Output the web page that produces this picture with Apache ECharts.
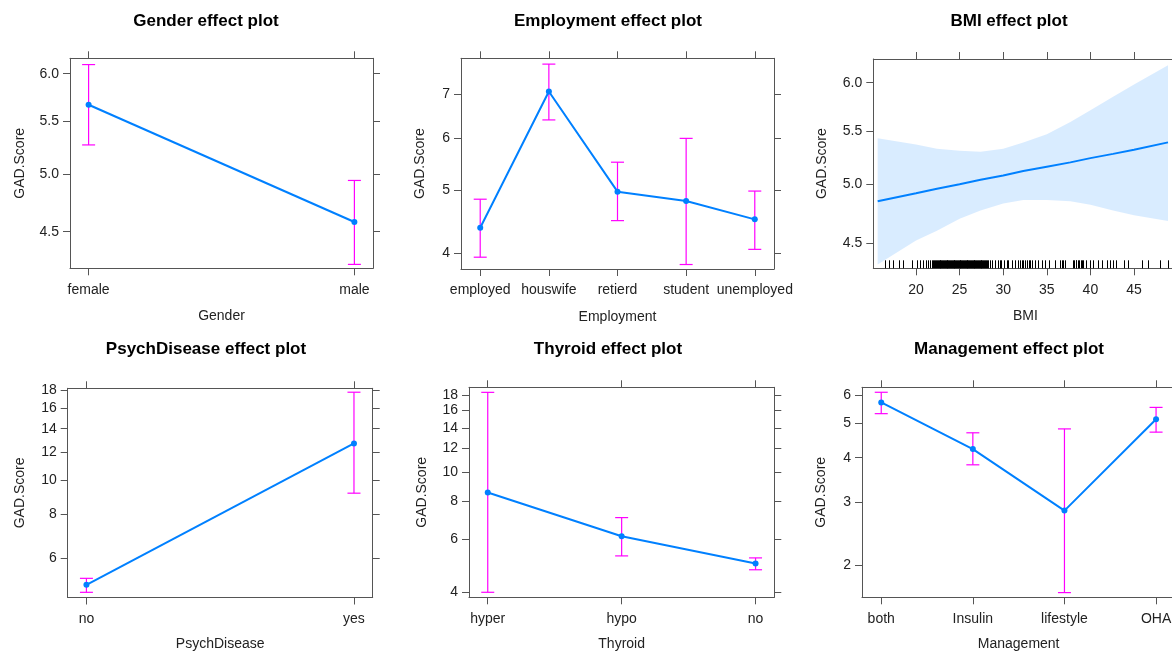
<!DOCTYPE html>
<html>
<head>
<meta charset="utf-8">
<script src="https://cdn.jsdelivr.net/npm/echarts@6.0.0/dist/echarts.min.js"></script>
<style>
html,body{margin:0;padding:0;background:#fff;overflow:hidden;}
#chart{width:1180px;height:652px;}
</style>
</head>
<body>
<div id="chart"></div>
<script>
// ---------------- DATA ----------------
// Gender
const genderCats = ['female', 'male'];
const genderFit = [5.67, 4.58];
const genderLower = [5.27, 4.24];
const genderUpper = [6.10, 4.94];
const genderTicks = [4.5, 5.0, 5.5, 6.0];

// Employment
const employmentCats = ['employed', 'houswife', 'retierd', 'student', 'unemployed'];
const employmentFit = [4.38, 7.06, 4.97, 4.81, 4.51];
const employmentLower = [3.95, 6.39, 4.49, 3.85, 4.06];
const employmentUpper = [4.84, 7.77, 5.51, 5.99, 4.98];
const employmentTicks = [4, 5, 6, 7];

// BMI
const bmiX = [15.6, 20, 22.4, 25, 27.4, 30, 32.3, 35, 37.7, 40, 42.6, 45, 48.9];
const bmiFit = [4.85, 4.92, 4.96, 5.00, 5.04, 5.08, 5.12, 5.16, 5.20, 5.24, 5.28, 5.32, 5.39];
const bmiLower = [4.33, 4.52, 4.60, 4.70, 4.77, 4.83, 4.86, 4.86, 4.85, 4.82, 4.77, 4.73, 4.68];
const bmiUpper = [5.43, 5.37, 5.33, 5.31, 5.30, 5.33, 5.39, 5.47, 5.59, 5.71, 5.85, 5.98, 6.19];
const bmiXTicks = [20, 25, 30, 35, 40, 45];
const bmiYTicks = [4.5, 5.0, 5.5, 6.0];
const bmiRug = [16.4, 16.9, 17.4, 18.0, 18.5, 19.5, 20.1, 20.5, 20.8, 21.1, 21.4, 21.6, 21.8,
  22.0, 22.1, 22.2, 22.3, 22.4, 22.5, 22.6, 22.7, 22.8, 22.9, 23.0, 23.1, 23.2, 23.3, 23.4, 23.5,
  23.6, 23.7, 23.8, 23.9, 24.0, 24.1, 24.2, 24.3, 24.4, 24.5, 24.6, 24.7, 24.8, 24.9, 25.0, 25.1,
  25.2, 25.3, 25.4, 25.5, 25.6, 25.7, 25.8, 25.9, 26.0, 26.1, 26.2, 26.3, 26.4, 26.5, 26.6, 26.7,
  26.8, 26.9, 27.0, 27.1, 27.2, 27.3, 27.4, 27.5, 27.6, 27.7, 27.8, 27.9, 28.0, 28.1, 28.3, 28.5,
  28.7, 29.1, 29.4, 29.6, 29.8, 30.1, 30.4, 30.6, 31.0, 31.4,
  31.7, 31.9, 32.1, 32.3, 32.5, 32.7, 32.9, 33.1, 33.3, 33.6, 34.0, 34.4, 34.8, 35.2, 35.9, 36.5,
  36.7, 36.9, 37.1, 38.0, 38.1, 38.3, 38.4, 38.6, 38.7, 38.9, 39.0, 39.2, 39.5, 40.0, 40.3, 40.9,
  41.3, 41.9, 42.2, 42.6, 42.9, 43.9, 44.3, 45.9, 46.6, 48.0, 48.9];

// PsychDisease
const psychCats = ['no', 'yes'];
const psychFit = [5.05, 12.72];
const psychLower = [4.81, 9.19];
const psychUpper = [5.27, 17.77];
const psychTicks = [6, 8, 10, 12, 14, 16, 18];

// Thyroid
const thyroidCats = ['hyper', 'hypo', 'no'];
const thyroidFit = [8.57, 6.14, 4.99];
const thyroidLower = [4.01, 5.29, 4.76];
const thyroidUpper = [18.37, 7.08, 5.21];
const thyroidTicks = [4, 6, 8, 10, 12, 14, 16, 18];

// Management
const managementCats = ['both', 'Insulin', 'lifestyle', 'OHA'];
const managementFit = [5.72, 4.23, 2.84, 5.13];
const managementLower = [5.32, 3.82, 1.67, 4.72];
const managementUpper = [6.11, 4.70, 4.82, 5.54];
const managementTicks = [2, 3, 4, 5, 6];

// ---------------- LAYOUT / STYLE ----------------
const FONT = 'Liberation Sans, Arial, Helvetica, sans-serif';
const BOX = '#555555';
const TXT = '#222222';
const BLUE = '#0080ff';
const MAG = '#ff00ff';
const ln = Math.log;

const panels = [
  {title: 'Gender effect plot', cx: 206, cy: 20, rect: [70, 58.3, 303, 210], xName: 'Gender', xGap: 41, yGap: 43,
   cats: genderCats, fit: genderFit, lo: genderLower, hi: genderUpper, yTicks: genderTicks, yRange: [4.21, 6.17], dec: 1},
  {title: 'Employment effect plot', cx: 608, cy: 20, rect: [461, 58.3, 313, 210.7], xName: 'Employment', xGap: 41, yGap: 34,
   cats: employmentCats, fit: employmentFit, lo: employmentLower, hi: employmentUpper, yTicks: employmentTicks, yRange: [3.79, 7.93], dec: 0},
  {title: 'BMI effect plot', cx: 1009, cy: 20, rect: [873.3, 59, 304.3, 209.3], xName: 'BMI', xGap: 41, yGap: 44.6,
   continuous: true, yTicks: bmiYTicks, yRange: [4.30, 6.26], xRange: [15.1, 50.0], xTicks: bmiXTicks, dec: 1},
  {title: 'PsychDisease effect plot', cx: 206, cy: 348, rect: [67.7, 388.3, 305, 209.4], xName: 'PsychDisease', xGap: 39.5, yGap: 40.7,
   cats: psychCats, fit: psychFit, lo: psychLower, hi: psychUpper, yTicks: psychTicks, yRange: [4.65, 18.23], dec: 0},
  {title: 'Thyroid effect plot', cx: 608, cy: 348, rect: [469, 387.3, 305.3, 210], xName: 'Thyroid', xGap: 39.5, yGap: 40.3,
   cats: thyroidCats, fit: thyroidFit, lo: thyroidLower, hi: thyroidUpper, yTicks: thyroidTicks, yRange: [3.86, 19.09], dec: 0},
  {title: 'Management effect plot', cx: 1009, cy: 348, rect: [862, 387.3, 313.3, 210], xName: 'Management', xGap: 39.5, yGap: 33.6,
   cats: managementCats, fit: managementFit, lo: managementLower, hi: managementUpper, yTicks: managementTicks, yRange: [1.62, 6.31], dec: 0}
];

const grids = [], xAxes = [], yAxes = [], series = [], graphics = [];
const lineStyle = {color: BOX, width: 1};

panels.forEach((p, i) => {
  grids.push({left: p.rect[0], top: p.rect[1], width: p.rect[2], height: p.rect[3], containLabel: false, show: false});
  graphics.push({type: 'text', x: p.cx, y: p.cy + 1, style: {text: p.title, font: 'bold 17px ' + FONT, fill: '#000',
    textAlign: 'center', textVerticalAlign: 'middle', align: 'center', verticalAlign: 'middle'}});

  let xMin, xMax, xTickVals, xFmt;
  if (p.continuous) {
    xMin = p.xRange[0]; xMax = p.xRange[1]; xTickVals = p.xTicks; xFmt = v => String(Math.round(v));
  } else {
    const n = p.cats.length - 1;
    const pad = 0.07 * n;
    xMin = -pad; xMax = n + pad;
    xTickVals = p.cats.map((c, k) => k);
    xFmt = v => p.cats[Math.round(v)];
  }
  const yTickVals = p.yTicks.map(ln);
  const yFmt = v => p.dec ? Math.exp(v).toFixed(p.dec) : String(Math.round(Math.exp(v)));

  const baseX = {gridIndex: i, type: 'value', min: xMin, max: xMax, splitLine: {show: false},
    axisLine: {show: true, onZero: false, lineStyle},
    axisTick: {show: true, inside: false, length: 7, customValues: xTickVals, lineStyle}};
  xAxes.push(Object.assign({}, baseX, {position: 'bottom',
    axisLabel: {show: true, customValues: xTickVals, formatter: xFmt, margin: 14.5, fontSize: 14, color: TXT, fontFamily: FONT},
    name: p.xName, nameLocation: 'middle', nameGap: p.xGap, nameTextStyle: {fontSize: 14, color: TXT, fontFamily: FONT}}));
  xAxes.push(Object.assign({}, baseX, {position: 'top', axisLabel: {show: false}}));

  const baseY = {gridIndex: i, type: 'value', min: ln(p.yRange[0]), max: ln(p.yRange[1]), splitLine: {show: false},
    axisLine: {show: true, onZero: false, lineStyle},
    axisTick: {show: true, inside: false, length: 7, customValues: yTickVals, lineStyle}};
  yAxes.push(Object.assign({}, baseY, {position: 'left',
    axisLabel: {show: true, customValues: yTickVals, formatter: yFmt, margin: 11, fontSize: 14, color: TXT, fontFamily: FONT},
    name: 'GAD.Score', nameLocation: 'middle', nameGap: p.yGap, nameRotate: 90,
    nameTextStyle: {fontSize: 14, color: TXT, fontFamily: FONT}}));
  yAxes.push(Object.assign({}, baseY, {position: 'right', axisLabel: {show: false}}));

  const xi = 2 * i, yi = 2 * i;

  if (p.continuous) {
    const bandData = bmiX.map((x, k) => [x, ln(bmiLower[k]), ln(bmiUpper[k])]);
    series.push({type: 'custom', xAxisIndex: xi, yAxisIndex: yi, z: 1, silent: true,
      data: bandData, encode: {x: 0, y: [1, 2]},
      renderItem: (params, api) => {
        if (params.dataIndex !== 0) return null;
        const up = bandData.map(d => api.coord([d[0], d[2]]));
        const dn = bandData.map(d => api.coord([d[0], d[1]])).reverse();
        return {type: 'polygon', shape: {points: up.concat(dn)}, style: {fill: 'rgba(0,128,255,0.15)'}};
      }});
    const yMinLn = ln(p.yRange[0]);
    series.push({type: 'custom', xAxisIndex: xi, yAxisIndex: yi, z: 3, silent: true,
      data: bmiRug.map(v => [v, yMinLn]), encode: {x: 0, y: 1},
      renderItem: (params, api) => {
        const pt = api.coord([api.value(0), api.value(1)]);
        const x = Math.round(pt[0]) + 0.5;
        return {type: 'line', shape: {x1: x, y1: pt[1], x2: x, y2: pt[1] - 8},
          style: {stroke: '#000', lineWidth: 1}};
      }});
    series.push({type: 'line', xAxisIndex: xi, yAxisIndex: yi, z: 4, showSymbol: false, symbol: 'none',
      data: bmiX.map((x, k) => [x, ln(bmiFit[k])]),
      lineStyle: {color: BLUE, width: 2}, itemStyle: {color: BLUE}, silent: true, animation: false});
  } else {
    series.push({type: 'custom', xAxisIndex: xi, yAxisIndex: yi, z: 2, silent: true,
      data: p.cats.map((c, k) => [k, ln(p.lo[k]), ln(p.hi[k])]), encode: {x: 0, y: [1, 2]},
      renderItem: (params, api) => {
        const a = api.coord([api.value(0), api.value(1)]);
        const b = api.coord([api.value(0), api.value(2)]);
        const w = 6.5;
        const st = {stroke: MAG, lineWidth: 1.2};
        return {type: 'group', children: [
          {type: 'line', shape: {x1: a[0], y1: a[1], x2: b[0], y2: b[1]}, style: st},
          {type: 'line', shape: {x1: a[0] - w, y1: a[1], x2: a[0] + w, y2: a[1]}, style: st},
          {type: 'line', shape: {x1: b[0] - w, y1: b[1], x2: b[0] + w, y2: b[1]}, style: st}
        ]};
      }});
    series.push({type: 'line', xAxisIndex: xi, yAxisIndex: yi, z: 4,
      data: p.cats.map((c, k) => [k, ln(p.fit[k])]),
      symbol: 'circle', symbolSize: 6, showSymbol: true,
      lineStyle: {color: BLUE, width: 2}, itemStyle: {color: BLUE}, silent: true, animation: false});
  }
});

const chart = echarts.init(document.getElementById('chart'), null, {renderer: 'canvas'});
chart.setOption({
  animation: false,
  backgroundColor: '#ffffff',
  grid: grids,
  xAxis: xAxes,
  yAxis: yAxes,
  series: series,
  graphic: graphics
});
</script>
</body>
</html>
